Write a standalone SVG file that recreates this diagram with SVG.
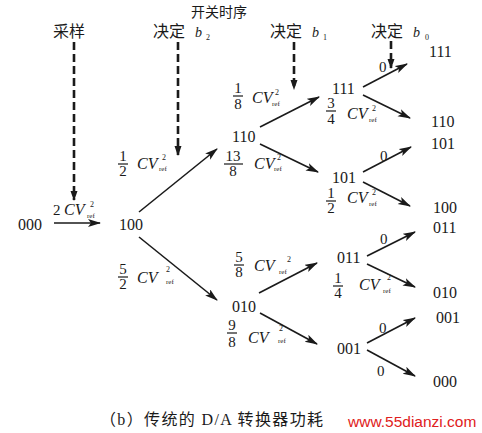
<svg xmlns="http://www.w3.org/2000/svg" width="482" height="433" viewBox="0 0 482 433">
<style>
.n{font-family:"Liberation Serif",serif;font-size:16px;fill:#1a1a1a}
.d{font-family:"Liberation Serif",serif;font-size:15px;fill:#1a1a1a;text-anchor:middle}
.z{font-family:"Liberation Serif",serif;font-size:15px;fill:#1a1a1a}
.cv{font-family:"Liberation Serif",serif;font-size:16px;font-style:italic;fill:#1a1a1a}
.sp{font-family:"Liberation Serif",serif;font-size:8px;fill:#1a1a1a}
.rf{font-family:"Liberation Serif",serif;font-size:7px;fill:#1a1a1a}
.cn{font-family:"Noto Sans CJK SC","Noto Sans CJK JP",sans-serif;font-size:16px;fill:#1a1a1a}
.fl{stroke:#1a1a1a;stroke-width:1.2}
.a{stroke:#1a1a1a;stroke-width:1.6;fill:none;marker-end:url(#ah)}
.ds{stroke:#1a1a1a;stroke-width:2.6;stroke-dasharray:8 4;fill:none;marker-end:url(#dh)}
</style>
<defs>
<marker id="ah" markerUnits="userSpaceOnUse" markerWidth="14" markerHeight="10" refX="12" refY="4" orient="auto">
<path d="M0,0 L13,4 L0,8 L3,4 z" fill="#1a1a1a"/>
</marker>
<marker id="dh" markerUnits="userSpaceOnUse" markerWidth="10" markerHeight="14" refX="9" refY="3.5" orient="auto">
<path d="M0,0 L10,3.5 L0,7 z" fill="#1a1a1a"/>
</marker>
</defs>

<g id="titles">
<text class="cn" x="191" y="17" style="font-size:14px">开关时序</text>
<text class="cn" x="53" y="37">采样</text>
<text class="cn" x="153" y="37">决定</text>
<text class="cv" x="195" y="37" style="font-size:14px">b</text>
<text class="sp" x="206" y="40">2</text>
<text class="cn" x="270" y="37">决定</text>
<text class="cv" x="312" y="37" style="font-size:14px">b</text>
<text class="sp" x="323" y="40">1</text>
<text class="cn" x="371" y="37">决定</text>
<text class="cv" x="413" y="37" style="font-size:14px">b</text>
<text class="sp" x="425" y="40">0</text>
</g>

<g id="connectors">
<line class="ds" x1="74" y1="42" x2="74" y2="200"/>
<line class="ds" x1="178" y1="42" x2="178" y2="155"/>
<line class="ds" x1="294" y1="42" x2="294" y2="89"/>
<line class="ds" x1="391" y1="41" x2="391" y2="68"/>
<line class="a" x1="54" y1="223" x2="100" y2="223"/>
<line class="a" x1="139" y1="212" x2="217" y2="149"/>
<line class="a" x1="139" y1="237" x2="217" y2="300"/>
<line class="a" x1="260" y1="127" x2="319" y2="97"/>
<line class="a" x1="260" y1="144" x2="318" y2="172"/>
<line class="a" x1="259" y1="293" x2="317" y2="263"/>
<line class="a" x1="260" y1="313" x2="317" y2="344"/>
<line class="a" x1="363" y1="87" x2="407" y2="64"/>
<line class="a" x1="363" y1="95" x2="410" y2="118"/>
<line class="a" x1="363" y1="172" x2="411" y2="147"/>
<line class="a" x1="363" y1="182" x2="410" y2="206"/>
<line class="a" x1="367" y1="256" x2="415" y2="232"/>
<line class="a" x1="367" y1="264" x2="415" y2="287"/>
<line class="a" x1="367" y1="343" x2="415" y2="318"/>
<line class="a" x1="367" y1="350" x2="415" y2="376"/>
</g>

<g id="edge-labels">
<text class="n" x="53" y="215" style="font-size:15px">2</text>
<text class="cv" x="64" y="215">CV</text><text class="sp" x="90" y="207">2</text><text class="rf" x="87" y="218">ref</text>

<text class="d" x="123" y="161">1</text><line class="fl" x1="118" y1="164" x2="128" y2="164"/><text class="d" x="123" y="176">2</text>
<text class="cv" x="137" y="169">CV</text><text class="sp" x="162" y="160">2</text><text class="rf" x="159" y="171">ref</text>

<text class="d" x="123" y="274">5</text><line class="fl" x1="118" y1="277" x2="128" y2="277"/><text class="d" x="123" y="289">2</text>
<text class="cv" x="137" y="283">CV</text><text class="sp" x="166" y="272">2</text><text class="rf" x="166" y="284">ref</text>

<text class="d" x="238" y="93">1</text><line class="fl" x1="233" y1="96" x2="243" y2="96"/><text class="d" x="238" y="109">8</text>
<text class="cv" x="252" y="103">CV</text><text class="sp" x="275" y="95">2</text><text class="rf" x="272" y="106">ref</text>

<text class="d" x="233" y="161">13</text><line class="fl" x1="224" y1="164" x2="243" y2="164"/><text class="d" x="233" y="176">8</text>
<text class="cv" x="254" y="169">CV</text><text class="sp" x="277" y="160">2</text><text class="rf" x="274" y="171">ref</text>

<text class="d" x="331" y="108">3</text><line class="fl" x1="326" y1="111" x2="336" y2="111"/><text class="d" x="331" y="124">4</text>
<text class="cv" x="347" y="119">CV</text><text class="sp" x="372" y="111">2</text><text class="rf" x="369" y="122">ref</text>

<text class="d" x="331" y="198">1</text><line class="fl" x1="326" y1="201" x2="336" y2="201"/><text class="d" x="331" y="213">2</text>
<text class="cv" x="347" y="203">CV</text><text class="sp" x="372" y="195">2</text><text class="rf" x="369" y="206">ref</text>

<text class="d" x="239" y="262">5</text><line class="fl" x1="234" y1="265" x2="244" y2="265"/><text class="d" x="239" y="277">8</text>
<text class="cv" x="254" y="271">CV</text><text class="sp" x="287" y="262">2</text><text class="rf" x="279" y="274">ref</text>

<text class="d" x="338" y="283">1</text><line class="fl" x1="333" y1="286" x2="343" y2="286"/><text class="d" x="338" y="298">4</text>
<text class="cv" x="359" y="290">CV</text><text class="sp" x="387" y="280">2</text><text class="rf" x="383" y="293">ref</text>

<text class="d" x="232" y="330">9</text><line class="fl" x1="227" y1="333" x2="237" y2="333"/><text class="d" x="232" y="347">8</text>
<text class="cv" x="248" y="343">CV</text><text class="sp" x="279" y="331">2</text><text class="rf" x="278" y="343">ref</text>

<text class="z" x="379" y="72">0</text>
<text class="z" x="380" y="161">0</text>
<text class="z" x="380" y="244">0</text>
<text class="z" x="379" y="333">0</text>
<text class="z" x="377" y="376">0</text>
</g>

<g id="node-000"><text class="n" x="18" y="230">000</text></g>
<g id="node-100"><text class="n" x="119" y="230">100</text></g>
<g id="node-110"><text class="n" x="232" y="142">110</text></g>
<g id="node-010"><text class="n" x="232" y="312">010</text></g>
<g id="node-111"><text class="n" x="332" y="94">111</text></g>
<g id="node-101"><text class="n" x="332" y="183">101</text></g>
<g id="node-011"><text class="n" x="337" y="263">011</text></g>
<g id="node-001"><text class="n" x="337" y="354">001</text></g>
<g id="out-111"><text class="n" x="429" y="57">111</text></g>
<g id="out-110"><text class="n" x="431" y="127">110</text></g>
<g id="out-101"><text class="n" x="431" y="149">101</text></g>
<g id="out-100"><text class="n" x="433" y="213">100</text></g>
<g id="out-011"><text class="n" x="433" y="233">011</text></g>
<g id="out-010"><text class="n" x="433" y="298">010</text></g>
<g id="out-001"><text class="n" x="436" y="323">001</text></g>
<g id="out-000"><text class="n" x="433" y="387">000</text></g>

<g id="caption">
<text x="100" y="425" textLength="223" lengthAdjust="spacing" style="font-family:'Liberation Serif','Noto Sans CJK SC',serif;font-size:16px;fill:#1a1a1a">（b）传统的 D/A 转换器功耗</text>
<text x="348" y="427" style="font-family:'Liberation Sans',Arial,sans-serif;font-size:15.5px;fill:#e02020">www.55dianzi.com</text>
</g>
</svg>
